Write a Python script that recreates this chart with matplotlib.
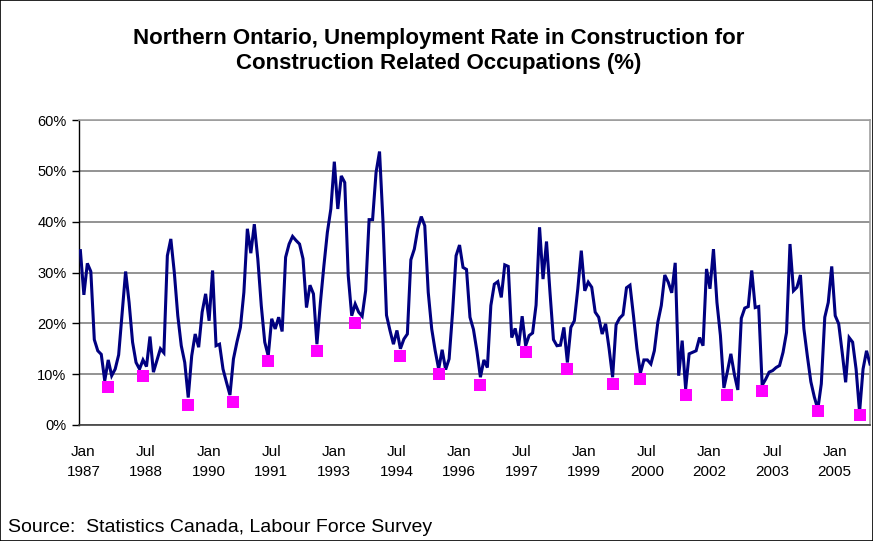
import numpy as np
import matplotlib

matplotlib.use("Agg")
import matplotlib.pyplot as plt  # noqa: E402
from matplotlib.patches import Rectangle  # noqa: E402
from matplotlib.ticker import FuncFormatter  # noqa: E402
from matplotlib.transforms import ScaledTranslation  # noqa: E402

plt.rcParams["font.family"] = ["Liberation Sans", "DejaVu Sans"]

# Monthly unemployment rate (%), Jan 1987 .. Dec 2005, one row per year
rate = [
    34.3, 25.6, 31.8, 30.2, 16.8, 14.6, 13.9, 8.7, 12.8, 9.7, 11.0, 13.8,
    22.0, 30.2, 24.1, 16.3, 12.3, 11.0, 12.8, 11.5, 17.4, 10.4, 12.7, 15.0,
    14.2, 33.3, 36.6, 30.0, 21.5, 15.6, 12.3, 5.4, 13.6, 17.9, 15.3, 22.2,
    25.8, 20.5, 30.4, 15.6, 15.9, 11.0, 8.4, 5.9, 13.0, 16.3, 19.2, 26.1,
    38.6, 33.8, 39.5, 32.7, 23.5, 16.3, 13.6, 20.9, 18.9, 21.2, 18.4, 33.0,
    35.6, 37.1, 36.3, 35.6, 32.7, 23.1, 27.5, 25.8, 15.9, 24.1, 31.3, 37.9,
    42.5, 51.8, 42.5, 49.0, 47.7, 29.4, 21.5, 23.8, 22.2, 21.4, 26.4, 40.4,
    40.4, 49.7, 53.8, 39.9, 21.6, 18.6, 15.9, 18.6, 15.0, 16.9, 17.9, 32.5,
    34.6, 38.6, 41.0, 39.2, 26.1, 18.9, 14.6, 11.0, 14.8, 10.9, 13.0, 22.2,
    33.3, 35.4, 31.0, 30.6, 21.2, 18.8, 14.5, 9.4, 12.8, 11.3, 23.5, 27.7,
    28.2, 25.1, 31.5, 31.2, 17.2, 19.0, 15.6, 21.4, 15.6, 17.6, 18.1, 23.6,
    38.9, 28.7, 36.1, 26.1, 16.8, 15.6, 15.7, 19.2, 12.3, 19.2, 20.5, 26.8,
    34.3, 26.4, 28.1, 27.1, 22.2, 21.2, 17.9, 19.9, 15.0, 9.4, 19.7, 21.0,
    21.7, 27.0, 27.5, 21.5, 15.0, 10.2, 12.8, 12.8, 12.0, 14.6, 20.2, 23.5,
    29.5, 28.1, 26.0, 31.9, 9.7, 16.6, 7.1, 14.0, 14.3, 14.6, 17.2, 15.6,
    30.7, 26.8, 34.6, 24.1, 17.6, 7.3, 10.5, 14.0, 10.0, 6.9, 21.0, 23.0,
    23.3, 30.4, 23.1, 23.3, 7.8, 9.0, 10.4, 10.7, 11.3, 11.7, 14.3, 18.2,
    35.6, 26.4, 27.1, 29.5, 18.9, 13.5, 8.5, 5.5, 3.1, 8.1, 21.2, 24.1,
    31.2, 21.5, 19.9, 14.3, 8.4, 17.2, 16.3, 11.0, 2.5, 11.0, 14.6, 12.0,
]

# Annual low markers: month offset from Jan 1987, value (%)
low_month = [8, 18, 31, 44, 54, 68, 79, 92, 103, 115, 128, 140, 153, 161,
             174, 186, 196, 212, 224]
low_value = [7.4, 9.7, 4.0, 4.6, 12.5, 14.6, 20.1, 13.6, 10.0, 7.9, 14.4,
             11.1, 8.1, 9.0, 6.0, 6.0, 6.6, 2.8, 2.0]

tick_month = list(range(0, 217, 18))
tick_labels = ["Jan\n1987", "Jul\n1988", "Jan\n1990", "Jul\n1991", "Jan\n1993",
               "Jul\n1994", "Jan\n1996", "Jul\n1997", "Jan\n1999", "Jul\n2000",
               "Jan\n2002", "Jul\n2003", "Jan\n2005"]

W, H = 873, 541
fig = plt.figure(figsize=(W / 100, H / 100), dpi=100)
ax = fig.add_axes([79 / W, 1 - 425 / H, 791 / W, 305 / H])

months = np.arange(len(rate))
ax.plot(months, rate, color="#000080", lw=2.2, solid_joinstyle="miter", zorder=3)
ax.plot(low_month, low_value, ls="none", marker="s", ms=8.6, color="#FF00FF",
        markeredgewidth=0, zorder=4)

ax.set_xlim(-0.4, len(rate) - 1)
ax.set_ylim(0, 60)
ax.set_yticks(range(0, 61, 10))
ax.yaxis.set_major_formatter(FuncFormatter(lambda v, _: f"{v:.0f}%"))
ax.set_xticks(tick_month)
ax.set_xticklabels(tick_labels, linespacing=1.5)
ax.tick_params(axis="x", length=0, pad=14.5, labelsize=11)
ax.tick_params(axis="y", direction="out", length=5, width=1, pad=4,
               labelsize=10.5)

# category labels sit a few pixels right of their months
nudge = ScaledTranslation(3 / 100, 0, fig.dpi_scale_trans)
for lbl in ax.get_xticklabels():
    lbl.set_transform(lbl.get_transform() + nudge)

ax.grid(axis="y", color="#808080", lw=1.2)
ax.set_axisbelow(True)
for side in ("top", "right"):
    ax.spines[side].set_color("#a0a0a0")
    ax.spines[side].set_linewidth(1.2)
ax.spines["left"].set_color("black")
ax.spines["bottom"].set_color("#404040")
ax.spines["left"].set_linewidth(1.0)
ax.spines["bottom"].set_linewidth(1.2)

fig.text(0.503, 1 - 51 / H,
         "Northern Ontario, Unemployment Rate in Construction for\n"
         "Construction Related Occupations (%)",
         ha="center", va="center", fontsize=16, fontweight="bold",
         linespacing=1.22)
fig.text(8 / W, 1 - 528 / H, "Source:  Statistics Canada, Labour Force Survey",
         ha="left", va="center", fontsize=14)

fig.patches.append(Rectangle((0, 0), 1, 1, transform=fig.transFigure,
                             fill=False, edgecolor="black", lw=1.2))

fig.savefig("out.png", dpi=100)
